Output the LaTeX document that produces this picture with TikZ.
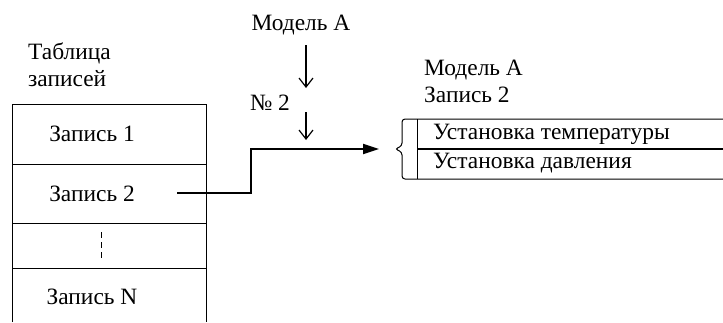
\documentclass[tikz,border=0pt]{standalone}
\usepackage{fontspec}
\setmainfont{Liberation Serif}
\usetikzlibrary{arrows.meta}

\begin{document}
\begin{tikzpicture}[x=1bp,y=1bp,
  txt/.style={inner sep=0pt, font=\fontsize{23.5}{27}\selectfont},
  thin/.style={line width=1bp},
  feed/.style={line width=1.2bp, -{Straight Barb[length=9bp,width=14bp]}},
  link/.style={line width=2bp, -{Triangle[length=16bp,width=10bp]}}]
  \useasboundingbox (0,0) rectangle (723,322);

  % ----- RECORD TABLE -----
  \node[txt, anchor=west, align=left] (title) at (28,257) {Таблица\\записей};
  \draw[thin] (12,0) -- (12,218) -- (206,218) -- (206,0);
  \foreach \y in {158,99,54} {%
    \draw[thin] (12,\y) -- (206,\y);
  }%
  \node[txt] (rec1) at (92,188) {Запись 1};
  \node[txt] (rec2) at (92,128) {Запись 2};
  \node[txt] (recN) at (92,25) {Запись N};
  \draw[thin, dash pattern=on 6bp off 4bp] (101,90) -- (101,62);

  % ----- MODEL / NUMBER -----
  \node[txt] (model) at (301,297) {Модель А};
  \node[txt] (num) at (270,219) {№ 2};
  \coordinate (m1) at (306,277);
  \coordinate (m2) at (306,234);
  \coordinate (n1) at (306,210);
  \coordinate (n2) at (306,182);
  \draw[feed] (m1) -- (m2);
  \draw[feed] (n1) -- (n2);

  % ----- LINK -----
  \coordinate (src) at (177,129);
  \coordinate (bend) at (251,129);
  \coordinate (tip) at (379,173);
  \draw[link] (src) -- (bend) |- (tip);

  % ----- SETTINGS -----
  \node[txt, anchor=west, align=left] (head) at (424,241) {Модель А\\Запись 2};
  \draw[thin, rounded corners=3bp] (723,203) -- (402,203) -- (402,176)
    -- (395,173) -- (402,170) -- (402,143) -- (723,143);
  \draw[thin] (417,203) -- (417,143);
  \draw[line width=1.6bp] (417,173) -- (723,173);
  \node[txt, anchor=west] (set1) at (433,188) {Установка температуры};
  \node[txt, anchor=west] (set2) at (433,159) {Установка давления};
\end{tikzpicture}
\end{document}
